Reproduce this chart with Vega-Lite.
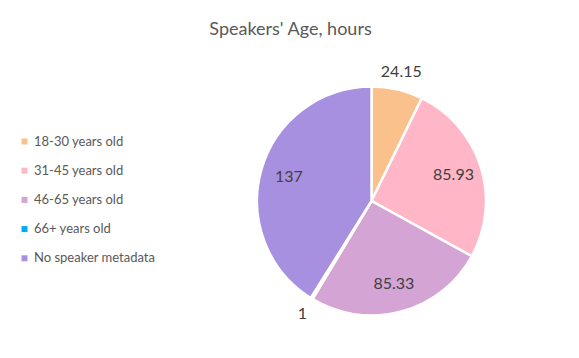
{
  "$schema": "https://vega.github.io/schema/vega-lite/v6.json",
  "autosize": "none",
  "width": 229,
  "height": 230,
  "padding": {"left": 257, "right": 93, "top": 86, "bottom": 42},
  "background": "white",
  "config": {"view": {"stroke": null}, "font": "Lato"},
  "title": {
    "text": "Speakers' Age, hours",
    "anchor": "middle",
    "dx": -81,
    "offset": 25,
    "fontSize": 18,
    "fontWeight": "normal",
    "color": "#595959",
    "font": "Lato"
  },
  "data": {
    "values": [
      {"group": "18-30 years old", "hours": 24.15, "ord": 1},
      {"group": "31-45 years old", "hours": 85.93, "ord": 2},
      {"group": "46-65 years old", "hours": 85.33, "ord": 3},
      {"group": "66+ years old", "hours": 1, "ord": 4},
      {"group": "No speaker metadata", "hours": 137, "ord": 5}
    ]
  },
  "encoding": {
    "theta": {"field": "hours", "type": "quantitative", "stack": true},
    "order": {"field": "ord", "type": "quantitative"}
  },
  "layer": [
    {
      "mark": {"type": "arc", "stroke": "white", "strokeWidth": 2.5},
      "encoding": {
        "color": {
          "field": "group",
          "type": "nominal",
          "sort": ["18-30 years old", "31-45 years old", "46-65 years old", "66+ years old", "No speaker metadata"],
          "scale": {
            "domain": ["18-30 years old", "31-45 years old", "46-65 years old", "66+ years old", "No speaker metadata"],
            "range": ["#FBC18D", "#FFB6C6", "#D4A4D4", "#00AEEF", "#A890E0"]
          },
          "legend": {
            "orient": "none",
            "legendX": -239,
            "legendY": 49,
            "title": null,
            "symbolType": "square",
            "symbolSize": 36,
            "symbolStrokeWidth": 0,
            "labelFontSize": 13,
            "labelColor": "#595959",
            "labelFont": "Lato",
            "labelOffset": 3,
            "rowPadding": 15.2
          }
        }
      }
    },
    {
      "mark": {"type": "text", "radius": 86, "fontSize": 16, "color": "#404040", "font": "Lato"},
      "encoding": {
        "text": {"condition": {"test": "datum.hours >= 30", "field": "hours", "type": "quantitative"}, "value": ""}
      }
    },
    {
      "mark": {"type": "text", "radius": 132, "fontSize": 16, "color": "#404040", "font": "Lato"},
      "encoding": {
        "text": {"condition": {"test": "datum.hours < 30", "field": "hours", "type": "quantitative"}, "value": ""}
      }
    }
  ]
}
